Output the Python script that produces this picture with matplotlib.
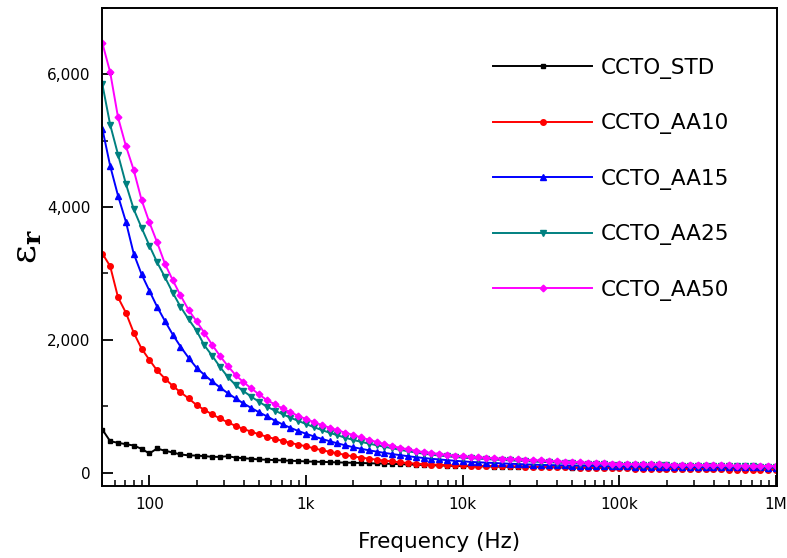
"""Dielectric constant vs frequency for CCTO samples (log-frequency sweep)."""

import matplotlib

matplotlib.use("Agg")
import matplotlib.pyplot as plt
from matplotlib.ticker import FixedLocator, FuncFormatter, LogLocator, MultipleLocator, NullFormatter

# Sweep frequencies (Hz), 20 points per decade
FREQ_HZ = [
    50.1, 56.2, 63.1, 70.8, 79.4, 89.1,
    100, 112, 126, 141, 158, 178, 200, 224, 251, 282,
    316, 355, 398, 447, 501, 562, 631, 708, 794, 891,
    1000, 1122, 1259, 1413, 1585, 1778, 1995, 2239, 2512, 2818,
    3162, 3548, 3981, 4467, 5012, 5623, 6310, 7079, 7943, 8913,
    10000, 11220, 12590, 14130, 15850, 17780, 19950, 22390, 25120, 28180,
    31620, 35480, 39810, 44670, 50120, 56230, 63100, 70790, 79430, 89130,
    100000, 112200, 125900, 141300, 158500, 177800, 199500, 223900, 251200, 281800,
    316200, 354800, 398100, 446700, 501200, 562300, 631000, 707900, 794300, 891300,
    1000000,
]

# Relative permittivity
EPS_STD = [
    650, 475, 450, 430, 410, 360,
    290, 365, 330, 305, 275, 262, 258, 250, 240, 238,
    250, 228, 218, 210, 200, 195, 190, 186, 180, 176,
    170, 166, 163, 160, 156, 152, 150, 147, 143, 140,
    137, 133, 129, 125, 121, 117, 113, 110, 106, 103,
    100, 98, 96, 95, 93, 91, 90, 88, 86, 85,
    84, 82, 81, 79, 78, 76, 75, 74, 72, 71,
    70, 69, 68, 67, 65, 64, 63, 62, 61, 60,
    59, 58, 57, 56, 55, 54, 53, 52, 52, 51,
    50,
]
EPS_AA10 = [
    3300, 3110, 2640, 2410, 2110, 1870,
    1700, 1540, 1415, 1307, 1213, 1119, 1019, 948, 880, 818,
    760, 705, 660, 618, 578, 542, 510, 479, 450, 423,
    398, 368, 340, 315, 291, 269, 245, 228, 212, 197,
    183, 170, 157, 147, 137, 128, 123, 119, 115, 112,
    109, 106, 104, 102, 100, 98, 96, 94, 92, 90,
    88, 86, 83, 81, 79, 76, 74, 72, 70, 68,
    66, 65, 63, 62, 60, 59, 58, 56, 55, 54,
    53, 51, 50, 49, 48, 47, 46, 45, 44, 43,
    42,
]
EPS_AA15 = [
    5180, 4620, 4170, 3780, 3300, 2990,
    2740, 2500, 2280, 2080, 1900, 1730, 1580, 1475, 1376, 1285,
    1199, 1119, 1045, 975, 910, 850, 786, 729, 677, 629,
    587, 547, 510, 475, 443, 413, 385, 361, 338, 318,
    299, 281, 265, 249, 235, 222, 210, 200, 190, 180,
    171, 163, 157, 152, 146, 141, 136, 131, 126, 122,
    118, 115, 113, 110, 108, 105, 103, 101, 99, 97,
    95, 94, 93, 92, 91, 90, 89, 88, 87, 86,
    86, 85, 84, 83, 82, 81, 81, 80, 79, 78,
    78,
]
EPS_AA25 = [
    5850, 5240, 4790, 4350, 3970, 3690,
    3420, 3170, 2940, 2710, 2500, 2310, 2140, 1920, 1765, 1595,
    1445, 1320, 1230, 1146, 1068, 995, 937, 881, 829, 781,
    733, 686, 643, 602, 564, 528, 494, 466, 439, 414,
    391, 368, 345, 324, 304, 287, 272, 259, 247, 236,
    227, 219, 212, 205, 198, 192, 186, 180, 174, 168,
    163, 158, 153, 148, 143, 139, 135, 131, 127, 123,
    120, 118, 116, 114, 113, 111, 110, 108, 107, 105,
    104, 102, 101, 100, 98, 97, 96, 94, 93, 92,
    91,
]
EPS_AA50 = [
    6470, 6030, 5350, 4920, 4560, 4110,
    3770, 3470, 3140, 2900, 2670, 2450, 2280, 2110, 1930, 1760,
    1610, 1470, 1365, 1270, 1180, 1094, 1031, 968, 911, 857,
    808, 762, 718, 678, 640, 603, 569, 532, 497, 463,
    432, 400, 375, 352, 330, 310, 296, 283, 270, 258,
    247, 240, 233, 226, 220, 213, 207, 201, 196, 190,
    185, 179, 173, 168, 162, 157, 152, 147, 142, 138,
    133, 131, 129, 128, 126, 124, 122, 121, 119, 117,
    115, 114, 112, 110, 109, 107, 106, 104, 103, 101,
    100,
]

SERIES = [
    ("CCTO_STD", EPS_STD, "#000000", "s"),
    ("CCTO_AA10", EPS_AA10, "#ff0000", "o"),
    ("CCTO_AA15", EPS_AA15, "#0000ff", "^"),
    ("CCTO_AA25", EPS_AA25, "#008080", "v"),
    ("CCTO_AA50", EPS_AA50, "#ff00ff", "D"),
]

X_TICKS = [100, 1e3, 1e4, 1e5, 1e6]
X_TICK_LABELS = ["100", "1k", "10k", "100k", "1M"]

plt.rcParams["mathtext.fontset"] = "dejavuserif"

fig = plt.figure(figsize=(7.87, 5.58), dpi=100)
ax = fig.add_axes([0.129, 0.129, 0.858, 0.857])

for label, values, color, marker in SERIES:
    ax.plot(
        FREQ_HZ,
        values,
        color=color,
        marker=marker,
        markersize={"s": 3.2, "D": 3.4}.get(marker, 4.0),
        linewidth=1.4,
        label=label,
    )

ax.set_xscale("log")
ax.set_xlim(49.5, 1.01e6)
ax.set_ylim(-200, 7000)

ax.xaxis.set_major_locator(FixedLocator(X_TICKS))
ax.set_xticklabels(X_TICK_LABELS)
ax.xaxis.set_minor_locator(LogLocator(base=10, subs=range(2, 10), numticks=20))
ax.xaxis.set_minor_formatter(NullFormatter())

ax.yaxis.set_major_locator(FixedLocator([0, 2000, 4000, 6000]))
ax.yaxis.set_minor_locator(MultipleLocator(1000))
ax.yaxis.set_major_formatter(FuncFormatter(lambda v, _: f"{v:,.0f}"))

ax.tick_params(which="major", direction="in", length=8, width=1.3, labelsize=11, pad=8)
ax.tick_params(which="minor", direction="in", length=4.5, width=1.1)
ax.tick_params(top=False, right=False, which="both")
for side in ax.spines.values():
    side.set_linewidth(1.4)

ax.set_xlabel("Frequency (Hz)", fontsize=15.5, labelpad=14)
ax.set_ylabel(r"ε$_\mathbf{r}$", fontsize=26, labelpad=2, family="DejaVu Serif")

ax.legend(
    loc="upper left",
    bbox_to_anchor=(493 / 787, 1 - 58 / 558),
    bbox_transform=fig.transFigure,
    frameon=False,
    fontsize=15.5,
    handlelength=4.6,
    handletextpad=0.4,
    labelspacing=1.6,
    borderpad=0,
    borderaxespad=0,
    numpoints=1,
)

fig.savefig("out.png", dpi=100)
plt.close(fig)
